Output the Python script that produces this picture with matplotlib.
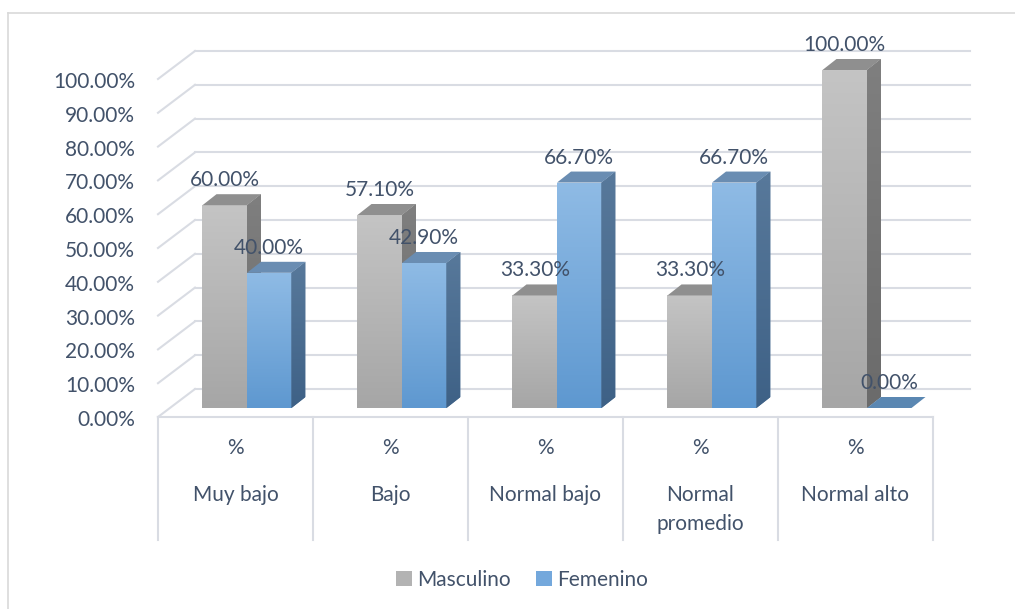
import matplotlib
matplotlib.use('Agg')
import matplotlib.pyplot as plt
import numpy as np
from matplotlib.patches import Polygon, Patch
from matplotlib.colors import LinearSegmentedColormap
from matplotlib.lines import Line2D

# ---------------- data ----------------
categories = ["Muy bajo", "Bajo", "Normal bajo", "Normal\npromedio", "Normal alto"]
cat_prefix = "%"
series_names = ["Masculino", "Femenino"]
masculino = [60.0, 57.1, 33.3, 33.3, 100.0]
femenino = [40.0, 42.9, 66.7, 66.7, 0.0]
y_ticks = [0, 10, 20, 30, 40, 50, 60, 70, 80, 90, 100]

# ---------------- style ----------------
plt.rcParams['font.family'] = ['Lato', 'DejaVu Sans']
TXT = '#42526a'
GRID = '#d9dce3'
FS = 15

W, H = 1015, 609
fig = plt.figure(figsize=(W / 100, H / 100), dpi=100)
ax = fig.add_axes([0, 0, 1, 1])

# pixel geometry of the pseudo-3D layout
X0 = 247.0    # px: cluster centre of first category (bar plane)
CAT = 155.0   # px per category
Y0 = 408.0    # px from top: bar base line
PCT = 3.38    # px per percent


def dx(px):
    return px / CAT


def dy(px):
    return px / PCT


XL = ((0 - X0) / CAT, (W - X0) / CAT)
YL = ((Y0 - H) / PCT, Y0 / PCT)

fx, fy = dx(-11.5), dy(-9)     # front plane offset
bx, by = dx(25.5), dy(19)      # back wall offset
bw = dx(44.5)                  # bar width
sdx, sdy = dx(14), dy(11)      # bar depth
n = len(categories)

# back wall gridlines and left wall diagonals
for t in y_ticks:
    ax.plot([-0.5 + bx, n - 0.5 + bx], [t + by, t + by], color=GRID, lw=1.5, zorder=1)
    ax.plot([-0.5 + fx, -0.5 + bx], [t + fy, t + by], color=GRID, lw=1.5, zorder=1)

# floor front line and category dividers
ax.plot([-0.5 + fx, n - 0.5 + fx], [fy, fy], color=GRID, lw=1.5, zorder=1)
for k in range(n + 1):
    xk = -0.5 + fx + k
    ax.plot([xk, xk], [fy, (Y0 - 540) / PCT], color=GRID, lw=1.5, zorder=1)

# y tick labels
for t in y_ticks:
    ax.text((135 - X0) / CAT, t + fy - dy(3), f"{t:.2f}%", ha='right', va='center',
            color=TXT, fontsize=FS)

# category labels
for i, c in enumerate(categories):
    xc = i + fx
    ax.text(xc, (Y0 - 448) / PCT, cat_prefix, ha='center', va='center', color=TXT, fontsize=FS)
    for j, line in enumerate(c.split("\n")):
        ax.text(xc, (Y0 - 495 - 29 * j) / PCT, line, ha='center', va='center',
                color=TXT, fontsize=FS)

grad = np.linspace(0, 1, 256).reshape(-1, 1)


def grad_fill(poly, bottom_c, top_c, ext, z):
    cm = LinearSegmentedColormap.from_list('g', [bottom_c, top_c])
    im = ax.imshow(grad, extent=ext, origin='lower', cmap=cm, aspect='auto',
                   zorder=z, interpolation='bilinear')
    im.set_clip_path(poly)


styles = [
    dict(front=('#a6a6a6', '#c4c4c4'), side=('#6b6b6b', '#7f7f7f'), top='#8f8f8f'),
    dict(front=('#5e98d0', '#8fbbe5'), side=('#3e6186', '#58799b'), top='#6a8db2'),
]

for i in range(n):
    for s, (vals, off) in enumerate([(masculino, -bw), (femenino, 0.0)]):
        v = vals[i]
        l = i + off
        z = 3 + s
        st = styles[s]
        if v > 0:
            bars = ax.bar(l, v, width=bw, align='edge', color=st['front'][1],
                          linewidth=0, zorder=z)
            grad_fill(bars[0], st['front'][0], st['front'][1], [l, l + bw, 0, v], z)
            side = Polygon([(l + bw, 0), (l + bw + sdx, sdy), (l + bw + sdx, v + sdy), (l + bw, v)],
                           closed=True, facecolor=st['side'][1], edgecolor='none', zorder=z)
            ax.add_patch(side)
            grad_fill(side, st['side'][0], st['side'][1], [l + bw, l + bw + sdx, 0, v + sdy], z)
        topc = st['top'] if v > 0 else '#5a87b2'
        top = Polygon([(l, v), (l + bw, v), (l + bw + sdx, v + sdy), (l + sdx, v + sdy)],
                      closed=True, facecolor=topc, edgecolor='none', zorder=z + 0.1)
        ax.add_patch(top)
        ax.text(l + bw / 2, v + dy(25), f"{v:.2f}%", ha='center', va='center',
                color=TXT, fontsize=FS, zorder=10)

# legend
handles = [Patch(facecolor='#b3b3b3', edgecolor='none', label=series_names[0]),
           Patch(facecolor='#74a8dc', edgecolor='none', label=series_names[1])]
leg = ax.legend(handles=handles, loc='center', bbox_to_anchor=(522 / W, 1 - 580 / H),
                bbox_transform=fig.transFigure, ncol=2, frameon=False, fontsize=FS,
                handlelength=0.75, handleheight=0.75, handletextpad=0.25,
                columnspacing=1.2, labelcolor=TXT, borderpad=0, borderaxespad=0)

# outer chart frame
fig.add_artist(Line2D([8 / W, 8 / W], [0, 1 - 13 / H], transform=fig.transFigure,
                      color='#d9d9d9', lw=1.2))
fig.add_artist(Line2D([8 / W, 1], [1 - 13 / H, 1 - 13 / H], transform=fig.transFigure,
                      color='#d9d9d9', lw=1.2))

ax.set_xlim(*XL)
ax.set_ylim(*YL)
ax.axis('off')
fig.savefig('out.png', dpi=100)
